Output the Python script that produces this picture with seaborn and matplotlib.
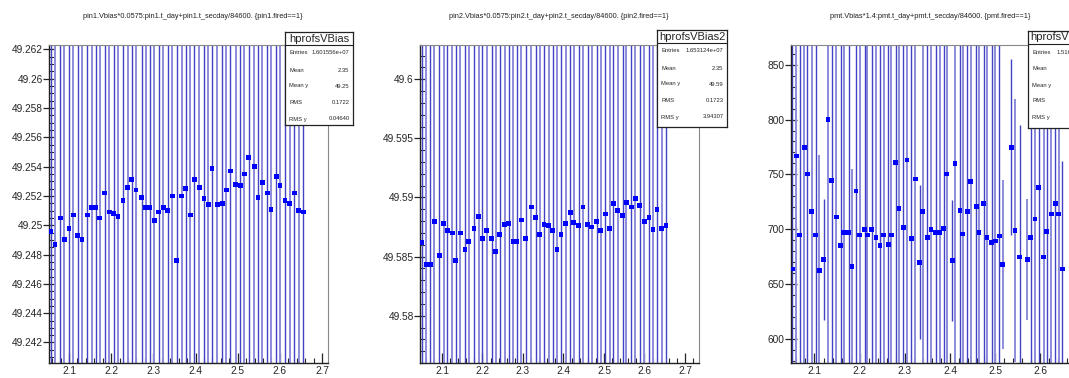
import numpy as np
import pandas as pd
import matplotlib
matplotlib.use('Agg')
import matplotlib.pyplot as plt
from matplotlib.ticker import MultipleLocator, FuncFormatter
import seaborn as sns

sns.set_theme(style='white', context='paper', rc={'axes.facecolor': 'white'})
plt.rcParams['font.family'] = ['Liberation Sans', 'DejaVu Sans']

# ---- data ----
titles = ["pin1.Vbias*0.0575:pin1.t_day+pin1.t_secday/84600. {pin1.fired==1}",
          "pin2.Vbias*0.0575:pin2.t_day+pin2.t_secday/84600. {pin2.fired==1}",
          "pmt.Vbias*1.4:pmt.t_day+pmt.t_secday/84600. {pmt.fired==1}"]

x_pin1 = [2.057, 2.067, 2.079, 2.089, 2.100, 2.110, 2.121, 2.131, 2.143, 2.154,
          2.164, 2.173, 2.185, 2.196, 2.206, 2.216, 2.228, 2.239, 2.249, 2.259,
          2.272, 2.282, 2.292, 2.302, 2.313, 2.324, 2.334, 2.345, 2.355, 2.367,
          2.377, 2.388, 2.397, 2.409, 2.420, 2.430, 2.439, 2.452, 2.463, 2.473,
          2.482, 2.495, 2.506, 2.516, 2.526, 2.539, 2.548, 2.558, 2.570, 2.579,
          2.591, 2.600, 2.612, 2.623, 2.634, 2.645, 2.655]
y_pin1 = [49.2496, 49.2487, 49.2505, 49.2490, 49.2498, 49.2507, 49.2493, 49.2490, 49.2507, 49.2512,
          49.2512, 49.2505, 49.2522, 49.2509, 49.2508, 49.2506, 49.2517, 49.2526, 49.2531, 49.2524,
          49.2519, 49.2512, 49.2512, 49.2503, 49.2509, 49.2512, 49.2510, 49.2520, 49.2476, 49.2520,
          49.2525, 49.2507, 49.2531, 49.2526, 49.2518, 49.2514, 49.2539, 49.2514, 49.2515, 49.2524,
          49.2537, 49.2528, 49.2527, 49.2535, 49.2546, 49.2540, 49.2519, 49.2529, 49.2522, 49.2511,
          49.2533, 49.2527, 49.2517, 49.2515, 49.2522, 49.2510, 49.2509]
err_pin1 = 0.05   # every error bar runs past the frame

x_pin2 = [2.0505, 2.061, 2.071, 2.081, 2.093, 2.104, 2.113, 2.125, 2.134, 2.145,
          2.157, 2.166, 2.179, 2.191, 2.200, 2.210, 2.223, 2.233, 2.243, 2.255,
          2.265, 2.276, 2.285, 2.296, 2.307, 2.321, 2.331, 2.341, 2.352, 2.363,
          2.373, 2.384, 2.394, 2.405, 2.417, 2.425, 2.438, 2.448, 2.460, 2.470,
          2.482, 2.492, 2.503, 2.514, 2.523, 2.534, 2.546, 2.555, 2.567, 2.577,
          2.588, 2.600, 2.611, 2.621, 2.631, 2.643, 2.653]
y_pin2 = [49.5862, 49.5843, 49.5843, 49.5880, 49.5851, 49.5878, 49.5872, 49.5870, 49.5847, 49.5870,
          49.5856, 49.5863, 49.5874, 49.5884, 49.5865, 49.5872, 49.5865, 49.5854, 49.5869, 49.5877,
          49.5878, 49.5863, 49.5863, 49.5881, 49.5865, 49.5892, 49.5883, 49.5869, 49.5877, 49.5876,
          49.5872, 49.5856, 49.5869, 49.5878, 49.5887, 49.5879, 49.5876, 49.5892, 49.5877, 49.5875,
          49.5880, 49.5872, 49.5886, 49.5874, 49.5895, 49.5889, 49.5885, 49.5896, 49.5892, 49.5899,
          49.5893, 49.5880, 49.5883, 49.5873, 49.5890, 49.5874, 49.5876]
err_pin2 = 0.05

x_pmt = [2.051, 2.060, 2.067, 2.077, 2.084, 2.094, 2.103, 2.111, 2.120, 2.130,
         2.138, 2.148, 2.158, 2.165, 2.176, 2.183, 2.192, 2.200, 2.211, 2.217,
         2.227, 2.236, 2.245, 2.253, 2.263, 2.270, 2.280, 2.287, 2.297, 2.305,
         2.314, 2.323, 2.333, 2.340, 2.350, 2.358, 2.368, 2.377, 2.386, 2.393,
         2.405, 2.411, 2.422, 2.428, 2.438, 2.446, 2.458, 2.464, 2.475, 2.482,
         2.492, 2.500, 2.509, 2.517, 2.536, 2.544, 2.554, 2.571, 2.579, 2.588,
         2.596, 2.607, 2.614, 2.624, 2.633, 2.641, 2.649]
y_pmt = [663.8, 766.8, 694.7, 774.5, 750.4, 716.4, 694.7, 662.3, 672.2, 800.0,
         744.2, 711.1, 685.5, 696.9, 696.9, 666.3, 734.9, 694.7, 699.4, 694.7,
         699.4, 692.6, 685.5, 694.7, 686.4, 694.7, 761.2, 718.6, 701.9, 763.1,
         691.3, 745.8, 670.0, 715.8, 692.6, 700.0, 696.9, 696.9, 700.9, 750.4,
         671.6, 759.7, 717.3, 695.7, 716.1, 743.3, 721.0, 696.9, 723.5, 692.3,
         687.9, 689.2, 693.8, 667.8, 774.8, 699.1, 674.6, 672.2, 692.3, 709.3,
         738.0, 674.6, 698.1, 713.9, 723.5, 713.9, 663.8]
err_pmt = [300, 300, 300, 300, 300, 300, 300, 105, 55, 300,
           300, 300, 300, 300, 300, 89, 300, 300, 300, 300,
           300, 300, 300, 300, 300, 300, 300, 300, 300, 300,
           300, 300, 70, 300, 300, 300, 300, 300, 300, 300,
           55, 300, 300, 300, 300, 300, 300, 300, 300, 300,
           300, 300, 300, 77, 80, 120, 120, 55, 120, 300,
           300, 300, 300, 300, 300, 300, 98]

stat_names = ["Entries", "Mean", "Mean y", "RMS", "RMS y"]
stats_pin1 = ["1.601556e+07", "2.35", "49.25", "0.1722", "0.04640"]
stats_pin2 = ["1.653124e+07", "2.35", "49.59", "0.1723", "3.94307"]
stats_pmt = ["1.516732e+07", "2.35", "701.2", "0.1721", "40.63"]
hist_names = ["hprofsVBias", "hprofsVBias2", "hprofsVBias3"]

# ---- layout (pixels of the 1069x378 picture) ----
W, H = 1069, 378
fig = plt.figure(figsize=(W / 100, H / 100), dpi=100)

panels = [
    dict(x=x_pin1, y=y_pin1, err=err_pin1, pos=(49, 45, 279, 318),
         xlim=(2.0526, 2.714), ylim=(49.2406, 49.2623), ymaj=0.002, ymin=0.0005,
         fmt=lambda v, p: f"{v:.3f}".rstrip('0').rstrip('.'),
         box=(285, 32, 68, 93), stats=stats_pin1, title_x=193),
    dict(x=x_pin2, y=y_pin2, err=err_pin2, pos=(420, 45, 279, 318),
         xlim=(2.0457, 2.7346), ylim=(49.576, 49.6029), ymaj=0.005, ymin=0.001,
         fmt=lambda v, p: f"{v:.3f}".rstrip('0').rstrip('.'),
         box=(657, 30, 70, 97), stats=stats_pin2, title_x=559),
    dict(x=x_pmt, y=y_pmt, err=err_pmt, pos=(791, 45, 290, 318),
         xlim=(2.048, 2.69), ylim=(578, 868), ymaj=50, ymin=10,
         fmt=lambda v, p: f"{v:.0f}",
         box=(1028, 31, 70, 97), stats=stats_pmt, title_x=930),
]

dark = '#4242c4'
light = '#8c8cdc'

for i, p in enumerate(panels):
    l, t, w, h = p['pos']
    ax = fig.add_axes([l / W, (H - t - h) / H, w / W, h / H])
    df = pd.DataFrame({'t': p['x'], 'v': p['y']})
    df['err'] = p['err']
    even = df.iloc[::2]
    odd = df.iloc[1::2]
    ax.errorbar(odd['t'], odd['v'], yerr=odd['err'], fmt='none', ecolor=light, elinewidth=1.4, zorder=1)
    ax.errorbar(even['t'], even['v'], yerr=even['err'], fmt='none', ecolor=dark, elinewidth=1.0, zorder=2)
    sns.scatterplot(data=df, x='t', y='v', ax=ax, marker='s', s=12, color='#0000ff',
                    edgecolor='none', linewidth=0, zorder=3)
    ax.set_xlim(*p['xlim'])
    ax.set_ylim(*p['ylim'])
    ax.set_xlabel('')
    ax.set_ylabel('')
    ax.xaxis.set_major_locator(MultipleLocator(0.1))
    ax.xaxis.set_minor_locator(MultipleLocator(0.02))
    ax.xaxis.set_major_formatter(FuncFormatter(lambda v, q: f"{v:.1f}"))
    ax.yaxis.set_major_locator(MultipleLocator(p['ymaj']))
    ax.yaxis.set_minor_locator(MultipleLocator(p['ymin']))
    ax.yaxis.set_major_formatter(FuncFormatter(p['fmt']))
    ax.tick_params(axis='x', which='major', direction='in', length=7, width=0.9,
                   labelsize=7.3, pad=2.5, bottom=True, top=False)
    ax.tick_params(axis='x', which='minor', direction='in', length=3.5, width=0.8,
                   bottom=True, top=False)
    ax.tick_params(axis='y', which='major', direction='inout', length=8, width=0.9,
                   labelsize=7.3, pad=0.5, left=True, right=False)
    ax.tick_params(axis='y', which='minor', direction='in', length=3.5, width=0.8,
                   left=True, right=False)
    for side in ['left', 'bottom']:
        ax.spines[side].set_color('#222222')
        ax.spines[side].set_linewidth(1.0)
    for side in ['top', 'right']:
        ax.spines[side].set_color('#888888')
        ax.spines[side].set_linewidth(0.8)

    fig.text(p['title_x'] / W, 1 - 17 / H, titles[i], ha='center', va='center',
             fontsize=5.3, color='#222222')

    # stats box
    bl, bt, bw, bh = p['box']
    bx = fig.add_axes([bl / W, (H - bt - bh) / H, bw / W, bh / H])
    bx.set_xticks([])
    bx.set_yticks([])
    bx.set_xlim(0, 1)
    bx.set_ylim(0, 1)
    bx.set_facecolor('white')
    for s in bx.spines.values():
        s.set_color('#222222')
        s.set_linewidth(0.9)
    head = 1 - 13 / bh
    bx.axhline(head, color='#222222', lw=0.8)
    bx.text(0.5, (1 + head) / 2, hist_names[i], ha='center', va='center', fontsize=8)
    rows = [(bh - (r - bt)) / bh for r in (bt + 21, bt + 38, bt + 54, bt + 70, bt + 87)]
    for name, val, ry in zip(stat_names, p['stats'], rows):
        bx.text(0.06, ry, name, ha='left', va='center', fontsize=4.2)
        bx.text(0.95, ry, val, ha='right', va='center', fontsize=4.2)

fig.savefig('out.png', dpi=100)
